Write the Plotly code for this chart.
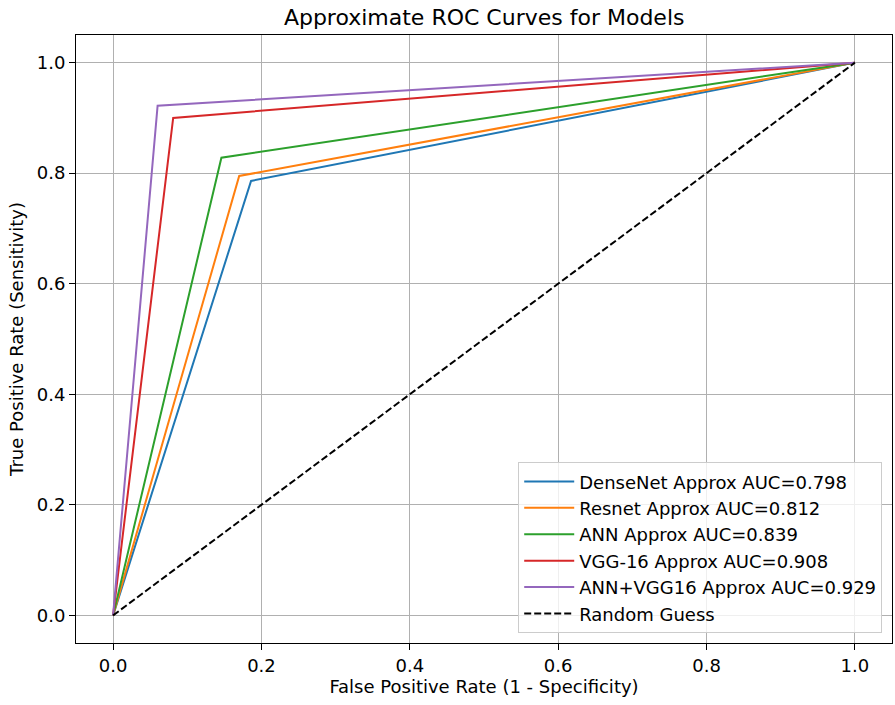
import plotly.graph_objects as go

models = ["DenseNet", "Resnet", "ANN", "VGG-16", "ANN+VGG16"]
auc = [0.798, 0.812, 0.839, 0.908, 0.929]
fpr_knee = [0.186, 0.170, 0.146, 0.081, 0.060]
tpr_knee = [0.786, 0.795, 0.828, 0.900, 0.922]
colors = ["#1f77b4", "#ff7f0e", "#2ca02c", "#d62728", "#9467bd"]
ticks = [0.0, 0.2, 0.4, 0.6, 0.8, 1.0]
tick_text = ["0.0", "0.2", "0.4", "0.6", "0.8", "1.0"]

font = "DejaVu Sans, Liberation Sans, sans-serif"

fig = go.Figure()
for i, m in enumerate(models):
    fig.add_trace(go.Scatter(
        x=[0, fpr_knee[i], 1], y=[0, tpr_knee[i], 1], mode="lines",
        line=dict(color=colors[i], width=2),
        name=f"{m} Approx AUC={auc[i]:.3f}", legendgroup=f"g{i}"))
fig.add_trace(go.Scatter(
    x=[0, 1], y=[0, 1], mode="lines",
    line=dict(color="black", width=2, dash="7px,3px"),
    name="Random Guess", legendgroup="g5"))

axis_common = dict(
    showline=True, linecolor="black", linewidth=1, mirror=True,
    ticks="outside", ticklen=6, tickwidth=1, tickcolor="black",
    showgrid=True, gridcolor="#b0b0b0", gridwidth=1, zeroline=False,
    tickvals=ticks, ticktext=tick_text,
    tickfont=dict(family=font, size=18, color="black"),
)
fig.update_xaxes(range=[-0.05, 1.05],
                 title=dict(text="False Positive Rate (1 - Specificity)",
                            font=dict(family=font, size=18, color="black"), standoff=4),
                 **axis_common)
fig.update_yaxes(range=[-0.05, 1.05],
                 title=dict(text="True Positive Rate (Sensitivity)",
                            font=dict(family=font, size=18, color="black"), standoff=8),
                 **axis_common)

fig.update_layout(
    width=895, height=705,
    margin=dict(l=76, r=3, t=35, b=62),
    plot_bgcolor="white", paper_bgcolor="white",
    title=dict(text="Approximate ROC Curves for Models", x=0.541, xanchor="center",
               y=0.975, yanchor="middle",
               font=dict(family=font, size=22, color="black")),
    legend=dict(x=0.988, y=0.016, xanchor="right", yanchor="bottom",
                bgcolor="rgba(255,255,255,0.8)", bordercolor="#cccccc", borderwidth=1,
                font=dict(family=font, size=18, color="black"),
                tracegroupgap=0, itemwidth=50),
    showlegend=True,
)

fig.write_html("out.html")
